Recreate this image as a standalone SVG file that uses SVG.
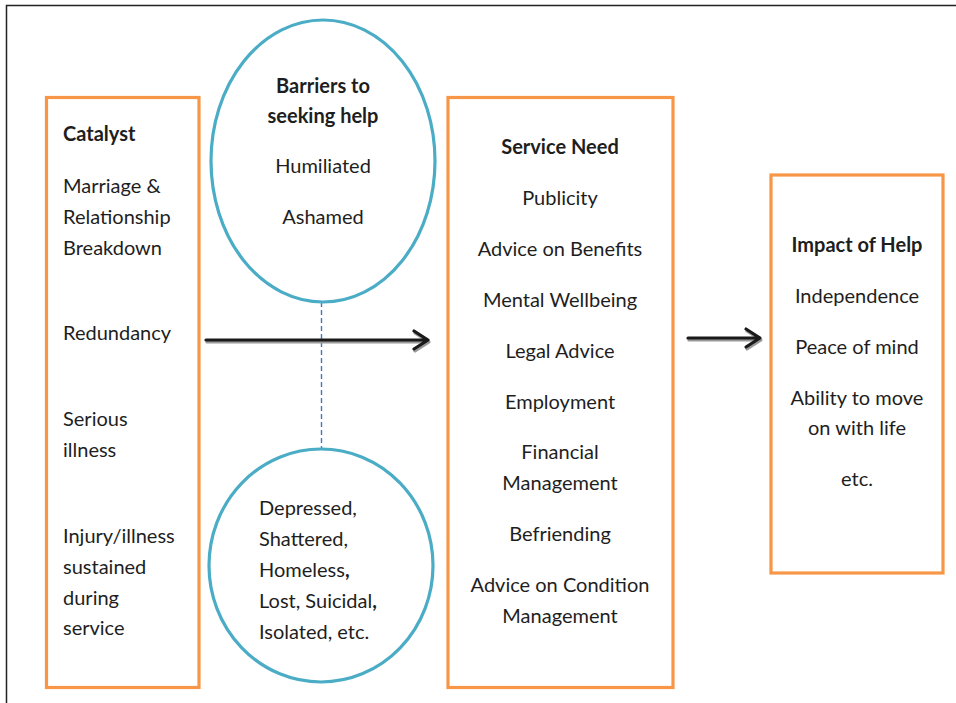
<svg xmlns="http://www.w3.org/2000/svg" width="956" height="703" viewBox="0 0 956 703">
<defs>
<style>
.box{fill:none;stroke:#F79646;stroke-width:3.2}
.ell{fill:none;stroke:#4BACC6;stroke-width:3.2}
text{font-family:Lato,"Open Sans","Liberation Sans",sans-serif;font-size:20px;fill:#1e1e1e}
.b{font-weight:bold}
.c{text-anchor:middle}
.arr{stroke:#1a1a1a;stroke-width:3.2;fill:none;stroke-linecap:round;stroke-linejoin:round}
.sh{stroke:#9a9a9a;stroke-width:3.2;fill:none;stroke-linecap:round;stroke-linejoin:round}
</style>
</defs>
<rect x="6.5" y="5.5" width="1000" height="1000" fill="#fff" stroke="#222" stroke-width="1.5"/>
<g id="connectors">
<line x1="321.5" y1="302" x2="321.5" y2="448" stroke="#3F7CC4" stroke-width="1.4" stroke-dasharray="5,3"/>
<g id="arrow1">
<path class="sh" d="M207 342 H428 M415 333 L429 342 L415 351"/>
<path class="arr" d="M206 340 H427 M414 331 L428 340 L414 349"/>
</g>
<g id="arrow2">
<path class="sh" d="M689 340 H760 M747 331 L761 340 L747 349"/>
<path class="arr" d="M688 338 H759 M746 329 L760 338 L746 347"/>
</g>
</g>
<g id="catalyst">
<rect class="box" x="46.5" y="97.5" width="152.5" height="590"/>
<text class="b" x="63" y="141">Catalyst</text>
<text x="63" y="193">Marriage &amp;</text>
<text x="63" y="224">Relationship</text>
<text x="63" y="255">Breakdown</text>
<text x="63" y="340">Redundancy</text>
<text x="63" y="426">Serious</text>
<text x="63" y="457">illness</text>
<text x="63" y="543">Injury/illness</text>
<text x="63" y="574">sustained</text>
<text x="63" y="605">during</text>
<text x="63" y="635">service</text>
</g>
<g id="barriers">
<ellipse class="ell" cx="323" cy="161" rx="112" ry="141"/>
<text class="b c" x="323" y="93">Barriers to</text>
<text class="b c" x="323" y="123">seeking help</text>
<text class="c" x="323" y="173">Humiliated</text>
<text class="c" x="323" y="224">Ashamed</text>
</g>
<g id="feelings">
<ellipse class="ell" cx="321" cy="565.5" rx="112" ry="116.5"/>
<text x="259" y="515">Depressed,</text>
<text x="259" y="546">Shattered,</text>
<text x="259" y="577">Homeless<tspan class="b">,</tspan></text>
<text x="259" y="608">Lost, Suicidal<tspan class="b">,</tspan></text>
<text x="259" y="639">Isolated, etc.</text>
</g>
<g id="service-need">
<rect class="box" x="448" y="97.5" width="225" height="590"/>
<text class="b c" x="560" y="154">Service Need</text>
<text class="c" x="560" y="205">Publicity</text>
<text class="c" x="560" y="256">Advice on Benefits</text>
<text class="c" x="560" y="307">Mental Wellbeing</text>
<text class="c" x="560" y="358">Legal Advice</text>
<text class="c" x="560" y="409">Employment</text>
<text class="c" x="560" y="459">Financial</text>
<text class="c" x="560" y="490">Management</text>
<text class="c" x="560" y="541">Befriending</text>
<text class="c" x="560" y="592">Advice on Condition</text>
<text class="c" x="560" y="623">Management</text>
</g>
<g id="impact">
<rect class="box" x="771" y="175" width="172" height="398"/>
<text class="b c" x="857" y="252">Impact of Help</text>
<text class="c" x="857" y="303">Independence</text>
<text class="c" x="857" y="354">Peace of mind</text>
<text class="c" x="857" y="405">Ability to move</text>
<text class="c" x="857" y="435">on with life</text>
<text class="c" x="857" y="486">etc.</text>
</g>
</svg>
